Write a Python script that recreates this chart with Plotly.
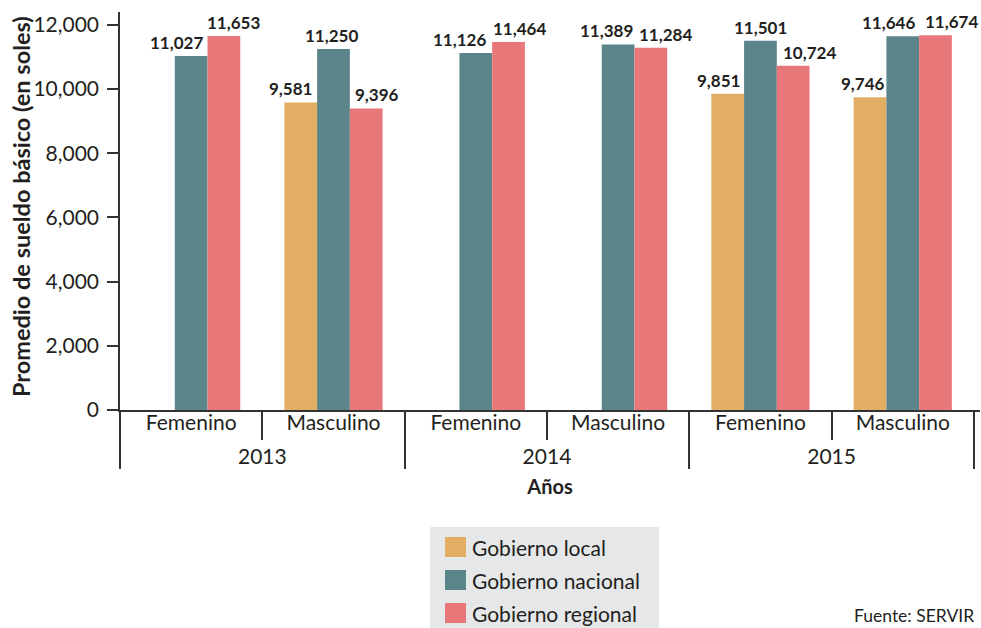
import plotly.graph_objects as go

# ---- data ----
years = ["2013", "2013", "2014", "2014", "2015", "2015"]
genders = ["Femenino", "Masculino", "Femenino", "Masculino", "Femenino", "Masculino"]
local = [None, 9581, None, None, 9851, 9746]
nacional = [11027, 11250, 11126, 11389, 11501, 11646]
regional = [11653, 9396, 11464, 11284, 10724, 11674]
series_names = ["Gobierno local", "Gobierno nacional", "Gobierno regional"]
y_ticks = [0, 2000, 4000, 6000, 8000, 10000, 12000]
y_tick_labels = ["0", "2,000", "4,000", "6,000", "8,000", "10,000", "12,000"]

# ---- style ----
colors = ["#E2AE63", "#5B858A", "#E8777A"]
label_xshift = [
    [0, -10, 0, 0, -9, -7],
    [-15, -2, -16, -12, 0, -14],
    [10, 11, 11, 15, 16, 16],
]
W, H = 981, 628
ML, MR, MT, MB = 120, 1, 12, 218
BARGAP = 0.31
FONT = "Lato"
TXT = "#231F20"
AX = "#333333"

series = [local, nacional, regional]

fig = go.Figure()
for name, vals, col in zip(series_names, series, colors):
    fig.add_trace(go.Bar(
        x=[years, genders], y=vals, name=name,
        marker=dict(color=col, line=dict(width=0)),
        showlegend=False,
    ))

# value labels
bw = (1 - BARGAP) / len(series)
for k, vals in enumerate(series):
    for i, v in enumerate(vals):
        if v is None:
            continue
        fig.add_annotation(
            x=i + (k - 1) * bw, y=v, xref="x", yref="y",
            text=f"{v:,}", showarrow=False, yanchor="bottom", yshift=1,
            xshift=label_xshift[k][i],
            font=dict(family=FONT, size=17, color=TXT, weight="bold"),
        )

pw = W - ML - MR
ph = H - MT - MB


def px_x(p):
    return (p - ML) / pw


def px_y(p):
    return (H - MB - p) / ph


# manual legend
fig.add_shape(type="rect", xref="paper", yref="paper",
              x0=px_x(430), x1=px_x(659), y0=px_y(640), y1=px_y(527),
              fillcolor="#E6E7E8", line=dict(width=0), layer="below")
for k, (name, col) in enumerate(zip(series_names, colors)):
    cy = 547 + 33 * k
    fig.add_shape(type="rect", xref="paper", yref="paper",
                  x0=px_x(445), x1=px_x(466), y0=px_y(cy + 10), y1=px_y(cy - 10),
                  fillcolor=col, line=dict(width=0))
    fig.add_annotation(xref="paper", yref="paper", x=px_x(470), y=px_y(cy),
                       text=name, showarrow=False, xanchor="left", yanchor="middle",
                       font=dict(family=FONT, size=21, color=TXT))

fig.add_annotation(xref="paper", yref="paper", x=px_x(852), y=px_y(615),
                   text="Fuente: SERVIR", showarrow=False, xanchor="left", yanchor="middle",
                   font=dict(family=FONT, size=17.5, color=TXT))

# y-axis title as rotated annotation for exact placement
fig.add_annotation(xref="paper", yref="paper", x=px_x(21), y=px_y(207),
                   text="Promedio de sueldo básico (en soles)", textangle=-90,
                   showarrow=False, xanchor="center", yanchor="middle",
                   font=dict(family=FONT, size=23.5, color=TXT, weight="bold"))

fig.update_layout(
    width=W, height=H,
    margin=dict(l=ML, r=MR, t=MT, b=MB),
    paper_bgcolor="white", plot_bgcolor="white",
    barmode="group", bargap=BARGAP, bargroupgap=0,
    font=dict(family=FONT, color=TXT),
    xaxis=dict(
        type="multicategory", automargin=False,
        showline=True, linecolor=AX, linewidth=1.5,
        ticks="outside", ticklen=28, tickcolor=AX, tickwidth=1.5,
        ticklabelstandoff=-7,
        showdividers=True, dividercolor=AX, dividerwidth=1.5,
        tickfont=dict(family=FONT, size=21, color=TXT),
        title=dict(text="Años", font=dict(family=FONT, size=20, color=TXT, weight="bold"),
                   standoff=13),
        showgrid=False, zeroline=False,
    ),
    yaxis=dict(
        automargin=False,
        range=[0, 12400], tickvals=y_ticks, ticktext=y_tick_labels,
        showline=True, linecolor=AX, linewidth=1.5,
        ticks="outside", ticklen=11, tickcolor=AX, tickwidth=1.5,
        ticklabelstandoff=4,
        tickfont=dict(family=FONT, size=21, color=TXT),
        showgrid=False, zeroline=False,
    ),
)

fig.write_html("out.html", config={"displayModeBar": False},
               post_script="document.body.style.margin='0';")
